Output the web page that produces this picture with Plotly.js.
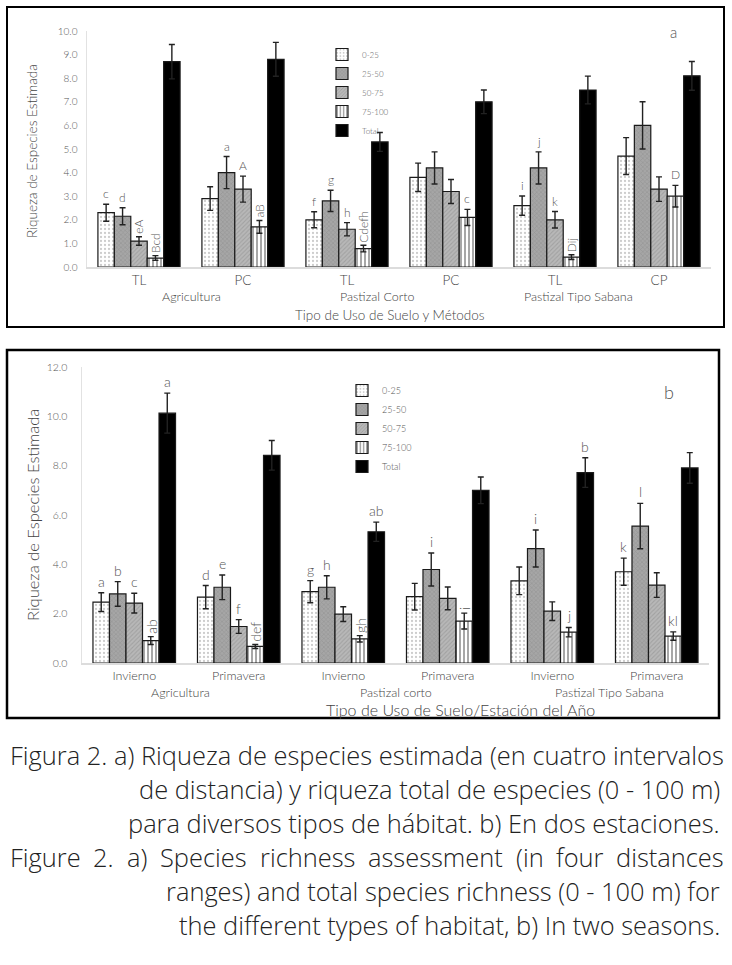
<!DOCTYPE html>
<html>
<head>
<meta charset="utf-8">
<script src="https://cdn.plot.ly/plotly-3.0.1.min.js"></script>
<style>
  html, body { margin: 0; padding: 0; background: #fff; }
  #chart { width: 732px; height: 965px; }
</style>
</head>
<body>
<div id="chart"></div>
<script>
// ---------- DATA ----------
const seriesNames = ["0-25", "25-50", "50-75", "75-100", "Total"];

// Panel a
const catsA = ["TL", "PC", "TL", "PC", "TL", "CP"];
const habitatA = ["Agricultura", "Agricultura", "Pastizal Corto", "Pastizal Corto", "Pastizal Tipo Sabana", "Pastizal Tipo Sabana"];
const a0_25 = [2.3, 2.9, 2.0, 3.8, 2.6, 4.7];
const a25_50 = [2.15, 4.0, 2.8, 4.2, 4.2, 6.0];
const a50_75 = [1.1, 3.3, 1.6, 3.2, 2.0, 3.3];
const a75_100 = [0.38, 1.7, 0.78, 2.1, 0.42, 3.0];
const aTotal = [8.7, 8.8, 5.3, 7.0, 7.5, 8.1];
const a0_25Err = [0.36, 0.5, 0.34, 0.6, 0.41, 0.78];
const a25_50Err = [0.36, 0.68, 0.45, 0.68, 0.68, 1.0];
const a50_75Err = [0.18, 0.55, 0.28, 0.51, 0.35, 0.52];
const a75_100Err = [0.1, 0.27, 0.14, 0.34, 0.1, 0.46];
const aTotalErr = [0.73, 0.72, 0.4, 0.5, 0.59, 0.61];
const aLet0_25 = ["c", "", "f", "", "i", ""];
const aLet25_50 = ["d", "a", "g", "", "j", ""];
const aLet50_75 = ["eA", "A", "h", "", "k", ""];
const aLet75_100 = ["Bcd", "aB", "Cdefh", "c", "Dij", "D"];
const aLetTotal = ["", "", "", "", "", ""];
const aGroupLabels = ["Agricultura", "Pastizal Corto", "Pastizal Tipo Sabana"];

// Panel b
const catsB = ["Invierno", "Primavera", "Invierno", "Primavera", "Invierno", "Primavera"];
const habitatB = ["Agricultura", "Agricultura", "Pastizal corto", "Pastizal corto", "Pastizal Tipo Sabana", "Pastizal Tipo Sabana"];
const b0_25 = [2.47, 2.67, 2.89, 2.69, 3.33, 3.7];
const b25_50 = [2.8, 3.07, 3.07, 3.79, 4.64, 5.55];
const b50_75 = [2.43, 1.48, 1.98, 2.62, 2.1, 3.16];
const b75_100 = [0.91, 0.67, 0.98, 1.7, 1.25, 1.09];
const bTotal = [10.13, 8.42, 5.32, 7.0, 7.72, 7.91];
const b0_25Err = [0.38, 0.47, 0.45, 0.54, 0.56, 0.55];
const b25_50Err = [0.5, 0.5, 0.47, 0.67, 0.75, 0.92];
const b50_75Err = [0.4, 0.28, 0.3, 0.46, 0.38, 0.5];
const b75_100Err = [0.16, 0.08, 0.13, 0.32, 0.19, 0.17];
const bTotalErr = [0.81, 0.6, 0.39, 0.54, 0.6, 0.62];
const bLet0_25 = ["a", "d", "g", "", "", "k"];
const bLet25_50 = ["b", "e", "h", "i", "i", "l"];
const bLet50_75 = ["c", "f", "", "", "", ""];
const bLet75_100 = ["ab", "def", "gh", "i", "j", "kl"];
const bLetTotal = ["a", "", "ab", "", "b", ""];
const bGroupLabels = ["Agricultura", "Pastizal corto", "Pastizal Tipo Sabana"];

const captionLines = [
  "Figura 2. a) Riqueza de especies estimada (en cuatro intervalos",
  "de distancia) y riqueza total de especies (0 - 100 m)",
  "para diversos tipos de hábitat. b) En dos estaciones.",
  "Figure 2. a) Species richness assessment (in four distances",
  "ranges) and total species richness (0 - 100 m) for",
  "the different types of habitat, b) In two seasons."
];

// ---------- STYLE / LAYOUT ----------
const W = 732, H = 965;
const px = x => x / W;
const py = y => 1 - y / H;
const FONT = "Lato, 'DejaVu Sans', sans-serif";
const CAPFAMILY = "'Open Sans'";
const CAPFONT = "'Open Sans', Lato, sans-serif";
const TXT = "#444";
const WT = 300;

const styles = [
  { color: "#ffffff", pattern: { shape: ".", fgcolor: "#9a9a9a", size: 4, solidity: 0.25, fillmode: "overlay" } },
  { color: "#a6a6a6", pattern: { shape: "x", fgcolor: "#7d7d7d", size: 3, solidity: 0.3, fillmode: "overlay" } },
  { color: "#b8b8b8", pattern: { shape: "/", fgcolor: "#8a8a8a", size: 3, solidity: 0.35, fillmode: "overlay" } },
  { color: "#ffffff", pattern: { shape: "|", fgcolor: "#222222", size: 4, solidity: 0.4, fillmode: "overlay" } },
  { color: "#000000" }
];

const bargap = 0.21;
const panelA = { xpx: [87, 711], ypx: [31, 267] };
const panelB = { xpx: [82, 709], ypx: [367, 663] };

function makeTraces(cats, habitat, vals, errs, xa, ya, legendId) {
  const xcats = cats.map((c, i) => habitat[i] + " · " + c + " " + i);
  return vals.map((v, j) => ({
    type: "bar",
    name: seriesNames[j],
    x: xcats,
    y: v,
    xaxis: xa, yaxis: ya,
    legend: legendId,
    marker: Object.assign({}, styles[j], { line: { color: "#1a1a1a", width: 1.2 } }),
    error_y: { type: "data", array: errs[j], visible: true, color: "#222", thickness: 1.4, width: 3 },
    hoverinfo: "name+y"
  }));
}

const valsA = [a0_25, a25_50, a50_75, a75_100, aTotal];
const errsA = [a0_25Err, a25_50Err, a50_75Err, a75_100Err, aTotalErr];
const letsA = [aLet0_25, aLet25_50, aLet50_75, aLet75_100, aLetTotal];
const valsB = [b0_25, b25_50, b50_75, b75_100, bTotal];
const errsB = [b0_25Err, b25_50Err, b50_75Err, b75_100Err, bTotalErr];
const letsB = [bLet0_25, bLet25_50, bLet50_75, bLet75_100, bLetTotal];

const tracesA = makeTraces(catsA, habitatA, valsA, errsA, "x", "y", "legend");
const tracesB = makeTraces(catsB, habitatB, valsB, errsB, "x2", "y2", "legend2");

const annotations = [];
function letterAnns(lets, vals, errs, panel, xref, yref, fsize, rotated) {
  const catW = (panel.xpx[1] - panel.xpx[0]) / 6;
  const barW = catW * (1 - bargap) / 5;
  lets.forEach((arr, j) => {
    arr.forEach((t, i) => {
      if (!t) return;
      const rot = rotated[j] && rotated[j].includes(i);
      annotations.push({
        xref: xref, yref: yref, x: i, y: vals[j][i] + errs[j][i],
        xshift: (j - 2) * barW, yshift: 1,
        text: t, showarrow: false, textangle: rot ? -90 : 0,
        xanchor: "center", yanchor: "bottom",
        font: { family: FONT, size: fsize, color: "#555", weight: WT }
      });
    });
  });
}
letterAnns(letsA, valsA, errsA, panelA, "x", "y", 12, { 2: [0], 3: [0, 1, 2, 4] });
letterAnns(letsB, valsB, errsB, panelB, "x2", "y2", 14, { 3: [0, 1, 2, 3] });

// group labels (second-level category text)
const grpA = [0.5, 2.29, 4.23];
aGroupLabels.forEach((g, k) => annotations.push({
  xref: "x", yref: "paper", x: grpA[k], y: py(296), text: g, showarrow: false,
  yanchor: "middle", font: { family: FONT, size: 12.5, color: TXT, weight: WT }
}));
const grpB = [0.44, 2.5, 4.55];
bGroupLabels.forEach((g, k) => annotations.push({
  xref: "x2", yref: "paper", x: grpB[k], y: py(692), text: g, showarrow: false,
  yanchor: "middle", font: { family: FONT, size: 12.5, color: TXT, weight: WT }
}));

// axis titles
annotations.push({ xref: "paper", yref: "paper", x: px(390), y: py(315), text: "Tipo de Uso de Suelo y Métodos",
  showarrow: false, yanchor: "middle", font: { family: FONT, size: 13.5, color: TXT, weight: WT } });
annotations.push({ xref: "paper", yref: "paper", x: px(32), y: py(151), text: "Riqueza de Especies Estimada",
  showarrow: false, textangle: -90, xanchor: "center", yanchor: "middle", font: { family: FONT, size: 13.5, color: TXT, weight: WT } });
annotations.push({ xref: "paper", yref: "paper", x: px(460), y: py(709), text: "Tipo de Uso de Suelo/Estación del Año",
  showarrow: false, yanchor: "middle", font: { family: FONT, size: 16, color: TXT, weight: WT } });
annotations.push({ xref: "paper", yref: "paper", x: px(33), y: py(515), text: "Riqueza de Especies Estimada",
  showarrow: false, textangle: -90, xanchor: "center", yanchor: "middle", font: { family: FONT, size: 16.5, color: TXT, weight: WT } });
// panel tags
annotations.push({ xref: "paper", yref: "paper", x: px(679), y: py(32), text: "a",
  showarrow: false, yanchor: "middle", font: { family: FONT, size: 15, color: "#555", weight: WT } });
annotations.push({ xref: "paper", yref: "paper", x: px(676), y: py(392), text: "b",
  showarrow: false, yanchor: "middle", font: { family: FONT, size: 18, color: "#555", weight: WT } });

// caption: size chosen so that the first line spans the text block, line 4 justified
const capLeft = 8, capRight = 722;
const ctx = document.createElement("canvas").getContext("2d");
const measure = (t, s) => { ctx.font = WT + " " + s + "px " + CAPFAMILY; return ctx.measureText(t).width; };
let capSize = 24 * (capRight - capLeft) / measure(captionLines[0], 24);
capSize = Math.min(26, Math.max(20, capSize));
const capY = [755, 789, 823, 857, 891, 925];
const capFont = { family: CAPFONT, size: capSize, color: "#222", weight: WT };
captionLines.forEach((t, k) => {
  if (k === 3) {
    const words = t.split(" ");
    const widths = words.map(w => measure(w, capSize));
    const total = widths.reduce((s, v) => s + v, 0);
    const gap = (capRight - capLeft - total) / (words.length - 1);
    let xPos = capLeft;
    words.forEach((w, m) => {
      annotations.push({
        xref: "paper", yref: "paper", x: px(xPos), y: py(capY[k]),
        xanchor: "left", yanchor: "middle", showarrow: false, text: w, font: capFont
      });
      xPos += widths[m] + gap;
    });
    return;
  }
  const left = (k === 0);
  annotations.push({
    xref: "paper", yref: "paper", x: left ? px(capLeft) : px(capRight), y: py(capY[k]),
    xanchor: left ? "left" : "right", yanchor: "middle", showarrow: false,
    text: t, font: capFont
  });
});

const axisX = (dom, anchor, tickvals, ticktext, fs) => ({
  domain: dom, anchor: anchor, type: "category",
  tickmode: "array", tickvals: tickvals, ticktext: ticktext,
  tickfont: { family: FONT, size: fs, color: TXT, weight: WT },
  showline: true, linecolor: "#dcdcdc", linewidth: 2,
  showgrid: false, zeroline: false, ticks: "", fixedrange: true
});
const axisY = (dom, anchor, range, dtick, fs, standoff) => ({
  domain: dom, anchor: anchor, range: range, dtick: dtick, tickformat: ".1f",
  tickfont: { family: FONT, size: fs, color: "#555", weight: WT },
  showline: true, linecolor: "#e2e2e2", linewidth: 1.5,
  showgrid: false, zeroline: false, ticks: "", ticklabelstandoff: standoff, fixedrange: true
});

const layout = {
  width: W, height: H,
  margin: { l: 0, r: 0, t: 0, b: 0 },
  paper_bgcolor: "#fff", plot_bgcolor: "#fff",
  font: { family: FONT, color: TXT },
  barmode: "group", bargap: bargap, bargroupgap: 0,
  xaxis: axisX([px(panelA.xpx[0]), px(panelA.xpx[1])], "y", tracesA[0].x, catsA, 13.5),
  yaxis: axisY([py(panelA.ypx[1]), py(panelA.ypx[0])], "x", [0, 10], 1, 10, 6),
  xaxis2: axisX([px(panelB.xpx[0]), px(panelB.xpx[1])], "y2", tracesB[0].x, catsB, 12.5),
  yaxis2: axisY([py(panelB.ypx[1]), py(panelB.ypx[0])], "x2", [0, 12], 2, 10.5, 11),
  legend: { x: px(322), y: py(40), xanchor: "left", yanchor: "top", bgcolor: "rgba(0,0,0,0)",
            font: { family: FONT, size: 8, color: "#555", weight: WT }, itemwidth: 30, traceorder: "normal" },
  legend2: { x: px(342), y: py(376), xanchor: "left", yanchor: "top", bgcolor: "rgba(0,0,0,0)",
             font: { family: FONT, size: 9, color: "#555", weight: WT }, itemwidth: 30, traceorder: "normal" },
  shapes: [
    { type: "rect", xref: "paper", yref: "paper", x0: px(7), x1: px(724), y0: py(327), y1: py(7), line: { color: "#000", width: 2 } },
    { type: "rect", xref: "paper", yref: "paper", x0: px(7), x1: px(719), y0: py(718), y1: py(350), line: { color: "#000", width: 2.5 } }
  ],
  annotations: annotations,
  showlegend: true
};

Plotly.newPlot("chart", tracesA.concat(tracesB), layout, { displayModeBar: false, staticPlot: true });
</script>
</body>
</html>
